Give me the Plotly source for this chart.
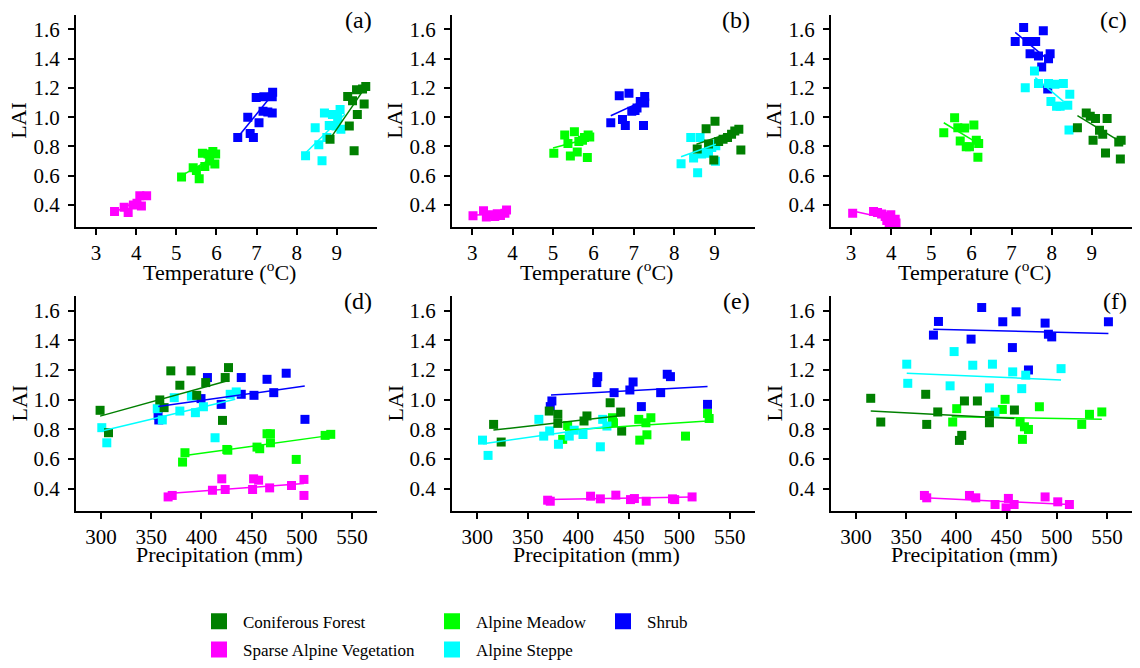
import plotly.graph_objects as go

W, H = 1140, 668
FONT = "Liberation Serif"

CATS = ["CF", "AM", "SH", "SAV", "AS"]
NAMES = {"CF": "Coniferous Forest", "AM": "Alpine Meadow", "SH": "Shrub",
         "SAV": "Sparse Alpine Vegetation", "AS": "Alpine Steppe"}
COLORS = {"CF": "#008000", "AM": "#00FF00", "SH": "#0000FF",
          "SAV": "#FF00FF", "AS": "#00FFFF"}

# ---------------- Panel (a): temperature ----------------
a_x = {
    "SAV": [3.46, 3.70, 3.80, 3.93, 4.02, 4.13, 4.09, 4.26],
    "AM": [5.13, 5.42, 5.50, 5.57, 5.65, 5.71, 5.79, 5.91, 5.96, 5.98, 5.83],
    "SH": [6.53, 6.78, 6.84, 6.92, 6.99, 7.06, 7.18, 7.16, 7.28, 7.39, 7.40, 7.39],
    "AS": [8.22, 8.46, 8.55, 8.63, 8.69, 8.75, 8.81, 8.89, 8.98, 9.08, 9.10, 9.02],
    "CF": [8.83, 9.27, 9.31, 9.39, 9.43, 9.51, 9.49, 9.64, 9.68, 9.72],
}
a_y = {
    "SAV": [0.355, 0.384, 0.348, 0.40, 0.411, 0.393, 0.463, 0.463],
    "AM": [0.591, 0.654, 0.636, 0.58, 0.753, 0.663, 0.748, 0.766, 0.68, 0.748, 0.70],
    "SH": [0.861, 1.0, 0.888, 0.861, 1.135, 0.962, 1.139, 1.04, 1.036, 1.029, 1.171, 1.139],
    "AS": [0.737, 0.928, 0.811, 0.703, 1.029, 0.861, 0.944, 1.018, 0.939, 1.052, 0.917, 0.995],
    "CF": [0.85, 1.141, 0.94, 1.112, 0.771, 1.018, 1.187, 1.193, 1.09, 1.209],
}
a_fit = {
    "SAV": ([3.46, 4.26], [0.35, 0.46]),
    "AM": ([5.10, 5.96], [0.595, 0.73]),
    "SH": ([6.55, 7.35], [0.87, 1.14]),
    "AS": ([8.20, 9.20], [0.75, 1.02]),
    "CF": ([8.80, 9.70], [0.84, 1.20]),
}

# ---------------- Panel (b): temperature ----------------
b_x = {
    "SAV": [3.02, 3.28, 3.35, 3.48, 3.56, 3.62, 3.70, 3.81, 3.85],
    "AM": [5.02, 5.29, 5.37, 5.43, 5.53, 5.60, 5.64, 5.73, 5.78, 5.85, 5.87, 5.91],
    "SH": [6.43, 6.64, 6.72, 6.79, 6.88, 6.95, 7.03, 7.08, 7.16, 7.24, 7.27, 7.27],
    "AS": [8.17, 8.41, 8.48, 8.58, 8.64, 8.68, 8.77, 8.85, 8.93, 8.98, 9.02, 9.03],
    "CF": [8.57, 8.79, 8.85, 8.98, 9.01, 9.10, 9.21, 9.32, 9.42, 9.50, 9.60, 9.65],
}
b_y = {
    "SAV": [0.326, 0.36, 0.317, 0.333, 0.321, 0.34, 0.328, 0.344, 0.366],
    "AM": [0.753, 0.879, 0.82, 0.735, 0.901, 0.762, 0.834, 0.843, 0.861, 0.724, 0.879, 0.865],
    "SH": [0.962, 1.146, 0.984, 0.944, 1.164, 1.04, 1.045, 1.063, 1.108, 0.944, 1.142, 1.097],
    "AS": [0.681, 0.861, 0.721, 0.62, 0.861, 0.748, 0.753, 0.766, 0.793, 0.816, 0.699, 0.805],
    "CF": [0.782, 0.921, 0.816, 0.708, 0.973, 0.834, 0.85, 0.861, 0.883, 0.906, 0.917, 0.776],
}
b_fit = {
    "SAV": ([3.02, 3.85], [0.33, 0.345]),
    "AM": ([5.00, 5.95], [0.79, 0.86]),
    "SH": ([6.43, 7.30], [1.01, 1.12]),
    "AS": ([8.17, 9.03], [0.73, 0.815]),
    "CF": ([8.55, 9.68], [0.815, 0.92]),
}

# ---------------- Panel (c): temperature ----------------
c_x = {
    "SAV": [3.04, 3.56, 3.66, 3.76, 3.85, 3.89, 3.95, 3.99, 4.10, 4.12],
    "AM": [5.31, 5.58, 5.66, 5.72, 5.83, 5.87, 5.95, 6.06, 6.12, 6.18, 6.16],
    "SH": [7.09, 7.30, 7.38, 7.46, 7.52, 7.60, 7.67, 7.75, 7.79, 7.92, 7.96, 7.90],
    "AS": [7.34, 7.57, 7.67, 7.92, 7.98, 8.08, 8.12, 8.21, 8.29, 8.40, 8.43, 8.45],
    "CF": [8.64, 8.86, 8.96, 9.09, 9.03, 9.19, 9.27, 9.34, 9.38, 9.67, 9.73, 9.71],
}
c_y = {
    "SAV": [0.344, 0.355, 0.348, 0.339, 0.321, 0.294, 0.276, 0.333, 0.303, 0.276],
    "AM": [0.894, 0.996, 0.928, 0.838, 0.926, 0.798, 0.798, 0.946, 0.843, 0.82, 0.726],
    "SH": [1.517, 1.613, 1.517, 1.434, 1.517, 1.517, 1.418, 1.344, 1.591, 1.40, 1.434, 1.193],
    "AS": [1.202, 1.315, 1.231, 1.231, 1.108, 1.225, 1.074, 1.074, 1.231, 1.081, 0.912, 1.157],
    "CF": [0.928, 1.029, 1.007, 0.991, 0.843, 0.91, 0.883, 0.755, 0.991, 0.831, 0.843, 0.715],
}
c_fit = {
    "SAV": ([3.10, 4.10], [0.355, 0.295]),
    "AM": ([5.31, 6.06], [0.962, 0.838]),
    "SH": ([7.09, 7.92], [1.58, 1.39]),
    "AS": ([7.59, 8.29], [1.27, 1.108]),
    "CF": ([8.64, 9.73], [1.01, 0.83]),
}

# ---------------- Panel (d): precipitation ----------------
d_x = {
    "CF": [299, 307.4, 358.5, 362.8, 369.5, 378.5, 389.6, 395.3, 404.3, 421, 423.7, 427],
    "SH": [356.8, 357.5, 399.6, 406, 419.7, 439.7, 439.7, 452.4, 465.4, 472.1, 484.5, 503.2],
    "AS": [300.7, 305.7, 356, 361, 372.9, 378.5, 390, 394, 402, 413.6, 428.7, 434.7],
    "AM": [381.2, 383.6, 425.3, 426.3, 455.4, 458.1, 465.4, 468.8, 468.8, 494.5, 523.3, 528.9],
    "SAV": [366.8, 370.9, 411, 420.3, 423.7, 451, 452, 457, 468, 489.8, 502.2, 502.2],
}
d_y = {
    "CF": [0.929, 0.778, 0.999, 0.947, 1.195, 1.098, 1.195, 1.03, 1.116, 0.861, 1.15, 1.217],
    "SH": [0.895, 0.864, 1.008, 1.15, 0.969, 1.037, 1.15, 1.03, 1.138, 1.048, 1.179, 0.868],
    "AS": [0.812, 0.71, 0.94, 0.864, 1.014, 0.924, 1.025, 0.913, 0.953, 0.744, 1.037, 1.053],
    "AM": [0.58, 0.643, 0.665, 0.66, 0.681, 0.67, 0.771, 0.771, 0.71, 0.598, 0.76, 0.767],
    "SAV": [0.345, 0.355, 0.39, 0.467, 0.395, 0.395, 0.467, 0.458, 0.406, 0.422, 0.463, 0.355],
}
d_fit = {
    "CF": ([299, 427], [0.89, 1.13]),
    "SH": ([357, 503], [0.954, 1.093]),
    "AS": ([300.7, 433.7], [0.79, 1.003]),
    "AM": ([383.6, 528.9], [0.625, 0.76]),
    "SAV": ([366.8, 502.2], [0.368, 0.436]),
}

# ---------------- Panel (e): precipitation ----------------
e_x = {
    "SH": [372.3, 373.9, 418.4, 419.3, 435.5, 451.1, 454.3, 462.5, 481.6, 488.1, 491.3, 528],
    "CF": [316.2, 323.7, 371.3, 379.8, 379.8, 405.7, 408.6, 431.6, 442, 443],
    "AS": [305.2, 310.7, 361, 365.8, 371.7, 380.4, 391.1, 396, 404.7, 421.9, 424.2, 428.4],
    "AM": [384.6, 389.5, 433.9, 434.9, 459.9, 460.9, 467, 468, 471.9, 506.2, 528, 529.6],
    "SAV": [369.7, 372.3, 412.2, 421.9, 437.2, 451.7, 455.6, 467.3, 493.3, 495.5, 512.7],
}
e_y = {
    "SH": [0.954, 0.992, 1.116, 1.156, 1.048, 1.066, 1.12, 0.954, 1.048, 1.172, 1.156, 0.969],
    "CF": [0.834, 0.715, 0.924, 0.902, 0.841, 0.857, 0.891, 0.98, 0.917, 0.789],
    "AS": [0.728, 0.625, 0.868, 0.755, 0.79, 0.7, 0.755, 0.795, 0.766, 0.683, 0.868, 0.823],
    "AM": [0.733, 0.827, 0.879, 0.845, 0.868, 0.728, 0.845, 0.764, 0.879, 0.755, 0.908, 0.874],
    "SAV": [0.323, 0.316, 0.35, 0.332, 0.357, 0.327, 0.334, 0.316, 0.332, 0.327, 0.345],
}
e_fit = {
    "SH": ([373, 528], [1.032, 1.089]),
    "CF": ([316, 443], [0.796, 0.894]),
    "AS": ([305.8, 430.7], [0.704, 0.823]),
    "AM": ([386.9, 528], [0.794, 0.857]),
    "SAV": ([369.7, 512.7], [0.327, 0.345]),
}

# ---------------- Panel (f): precipitation ----------------
f_x = {
    "SH": [377.1, 382.1, 414.6, 425.2, 446.2, 455.8, 459.5, 471.8, 488.4, 491.7, 495, 551.5],
    "AS": [350.5, 351.5, 393.7, 397.7, 416.3, 432.9, 435.9, 438.5, 456.1, 465.1, 469.1, 504.3],
    "CF": [314.6, 324.6, 369.4, 370.4, 381.4, 403, 405.3, 408, 420.9, 432.9, 432.9, 457.8],
    "AM": [396.3, 400.3, 445.8, 448.5, 463.5, 465.8, 467.8, 471.8, 482.7, 524.9, 532.6, 544.9],
    "SAV": [368.1, 370.4, 413, 419.3, 438.5, 449.5, 451.8, 457.5, 488.4, 501, 512.6],
}
f_y = {
    "SH": [1.436, 1.528, 1.409, 1.622, 1.526, 1.352, 1.593, 1.201, 1.517, 1.442, 1.424, 1.526],
    "AS": [1.24, 1.111, 1.094, 1.325, 1.233, 1.08, 1.24, 0.918, 1.188, 1.075, 1.166, 1.21],
    "CF": [1.01, 0.85, 1.037, 0.834, 0.918, 0.726, 0.76, 0.992, 0.992, 0.895, 0.845, 0.931],
    "AM": [0.85, 0.94, 0.935, 1.003, 0.85, 0.733, 0.818, 0.8, 0.953, 0.834, 0.902, 0.918],
    "SAV": [0.355, 0.339, 0.355, 0.339, 0.294, 0.271, 0.335, 0.294, 0.345, 0.312, 0.294],
}
f_fit = {
    "SH": ([377, 551.5], [1.476, 1.447]),
    "AS": ([350.5, 504.3], [1.179, 1.134]),
    "CF": ([314.6, 457.8], [0.924, 0.873]),
    "AM": ([395.3, 544.9], [0.886, 0.868]),
    "SAV": ([368, 512.6], [0.339, 0.294]),
}

temp_ticks = [3, 4, 5, 6, 7, 8, 9]
prec_ticks = [300, 350, 400, 450, 500, 550]
lai_ticks = [0.4, 0.6, 0.8, 1.0, 1.2, 1.4, 1.6]

panels = [
    ("a", a_x, a_y, a_fit, 0, 0),
    ("b", b_x, b_y, b_fit, 0, 1),
    ("c", c_x, c_y, c_fit, 0, 2),
    ("d", d_x, d_y, d_fit, 1, 0),
    ("e", e_x, e_y, e_fit, 1, 1),
    ("f", f_x, f_y, f_fit, 1, 2),
]

cols_px = [(76, 377), (452, 755), (831, 1132)]
rows_px = [(15, 230), (300, 518)]
draw_order = ["SAV", "AM", "SH", "AS", "CF"]

fig = go.Figure()
layout = dict(width=W, height=H, margin=dict(l=0, r=0, t=0, b=0),
              plot_bgcolor="white", paper_bgcolor="white",
              font=dict(family=FONT, color="black"))
annotations = []

for i, (lab, px, py, pfit, r, c) in enumerate(panels):
    n = i + 1
    xa = "x" if n == 1 else f"x{n}"
    ya = "y" if n == 1 else f"y{n}"
    for k in draw_order:
        fig.add_trace(go.Scatter(x=px[k], y=py[k], mode="markers", xaxis=xa, yaxis=ya,
                                 marker=dict(symbol="square", size=9, color=COLORS[k]),
                                 showlegend=False, hoverinfo="skip"))
    for k in draw_order:
        fx, fy = pfit[k]
        fig.add_trace(go.Scatter(x=fx, y=fy, mode="lines", xaxis=xa, yaxis=ya,
                                 line=dict(color=COLORS[k], width=1.5),
                                 showlegend=False, hoverinfo="skip"))
    x0, x1 = cols_px[c]
    y0, y1 = rows_px[r]
    is_temp = r == 0
    axcommon = dict(showline=True, linewidth=2, linecolor="black", ticks="outside",
                    ticklen=6, tickwidth=2, tickcolor="black", showgrid=False,
                    zeroline=False, mirror=False,
                    tickfont=dict(family=FONT, size=21, color="black"))
    xkey = "xaxis" if n == 1 else f"xaxis{n}"
    ykey = "yaxis" if n == 1 else f"yaxis{n}"
    layout[xkey] = dict(axcommon, domain=[x0 / W, x1 / W], anchor=ya,
                        range=[2.5, 10.0] if is_temp else [275, 575],
                        tickvals=temp_ticks if is_temp else prec_ticks,
                        ticklabelstandoff=0)
    layout[ykey] = dict(axcommon, domain=[1 - y1 / H, 1 - y0 / H], anchor=xa,
                        range=[0.25, 1.7], tickvals=lai_ticks, tickformat=".1f",
                        ticklabelstandoff=4)
    # panel label
    annotations.append(dict(text=f"({lab})", xref="paper", yref="paper",
                            x=(x1 - 3) / W, y=1 - (y0 + 5) / H, xanchor="right", yanchor="middle",
                            showarrow=False, font=dict(family=FONT, size=24, color="black")))
    # y title
    annotations.append(dict(text="LAI", xref="paper", yref="paper",
                            x=(x0 - 57) / W, y=1 - ((y0 + y1) / 2) / H, xanchor="center",
                            yanchor="middle", textangle=-90, showarrow=False,
                            font=dict(family=FONT, size=22, color="black")))
    # x title
    xt = "Temperature (<sup>o</sup>C)" if is_temp else "Precipitation (mm)"
    ty = 275 if is_temp else 562
    annotations.append(dict(text=xt, xref="paper", yref="paper",
                            x=((x0 + x1) / 2 - 7) / W, y=1 - ty / H, xanchor="center",
                            yanchor="middle", showarrow=False,
                            font=dict(family=FONT, size=22, color="black")))

# legend-only traces in three columns
legend_cols = [("legend", ["CF", "SAV"], 195), ("legend2", ["AM", "AS"], 428), ("legend3", ["SH"], 599)]
for lg, keys, lx in legend_cols:
    for k in keys:
        fig.add_trace(go.Scatter(x=[None], y=[None], mode="markers", name=NAMES[k],
                                 marker=dict(symbol="square", size=16, color=COLORS[k]),
                                 legend=lg, legendgroup=k, showlegend=True, hoverinfo="skip"))
    layout[lg] = dict(x=lx / W, y=1 - 612 / H, xanchor="left", yanchor="top",
                      orientation="v", bgcolor="rgba(0,0,0,0)", itemwidth=38,
                      font=dict(family=FONT, size=17, color="black"), tracegroupgap=3)

layout["annotations"] = annotations
fig.update_layout(**layout)
fig.write_html("out.html")
